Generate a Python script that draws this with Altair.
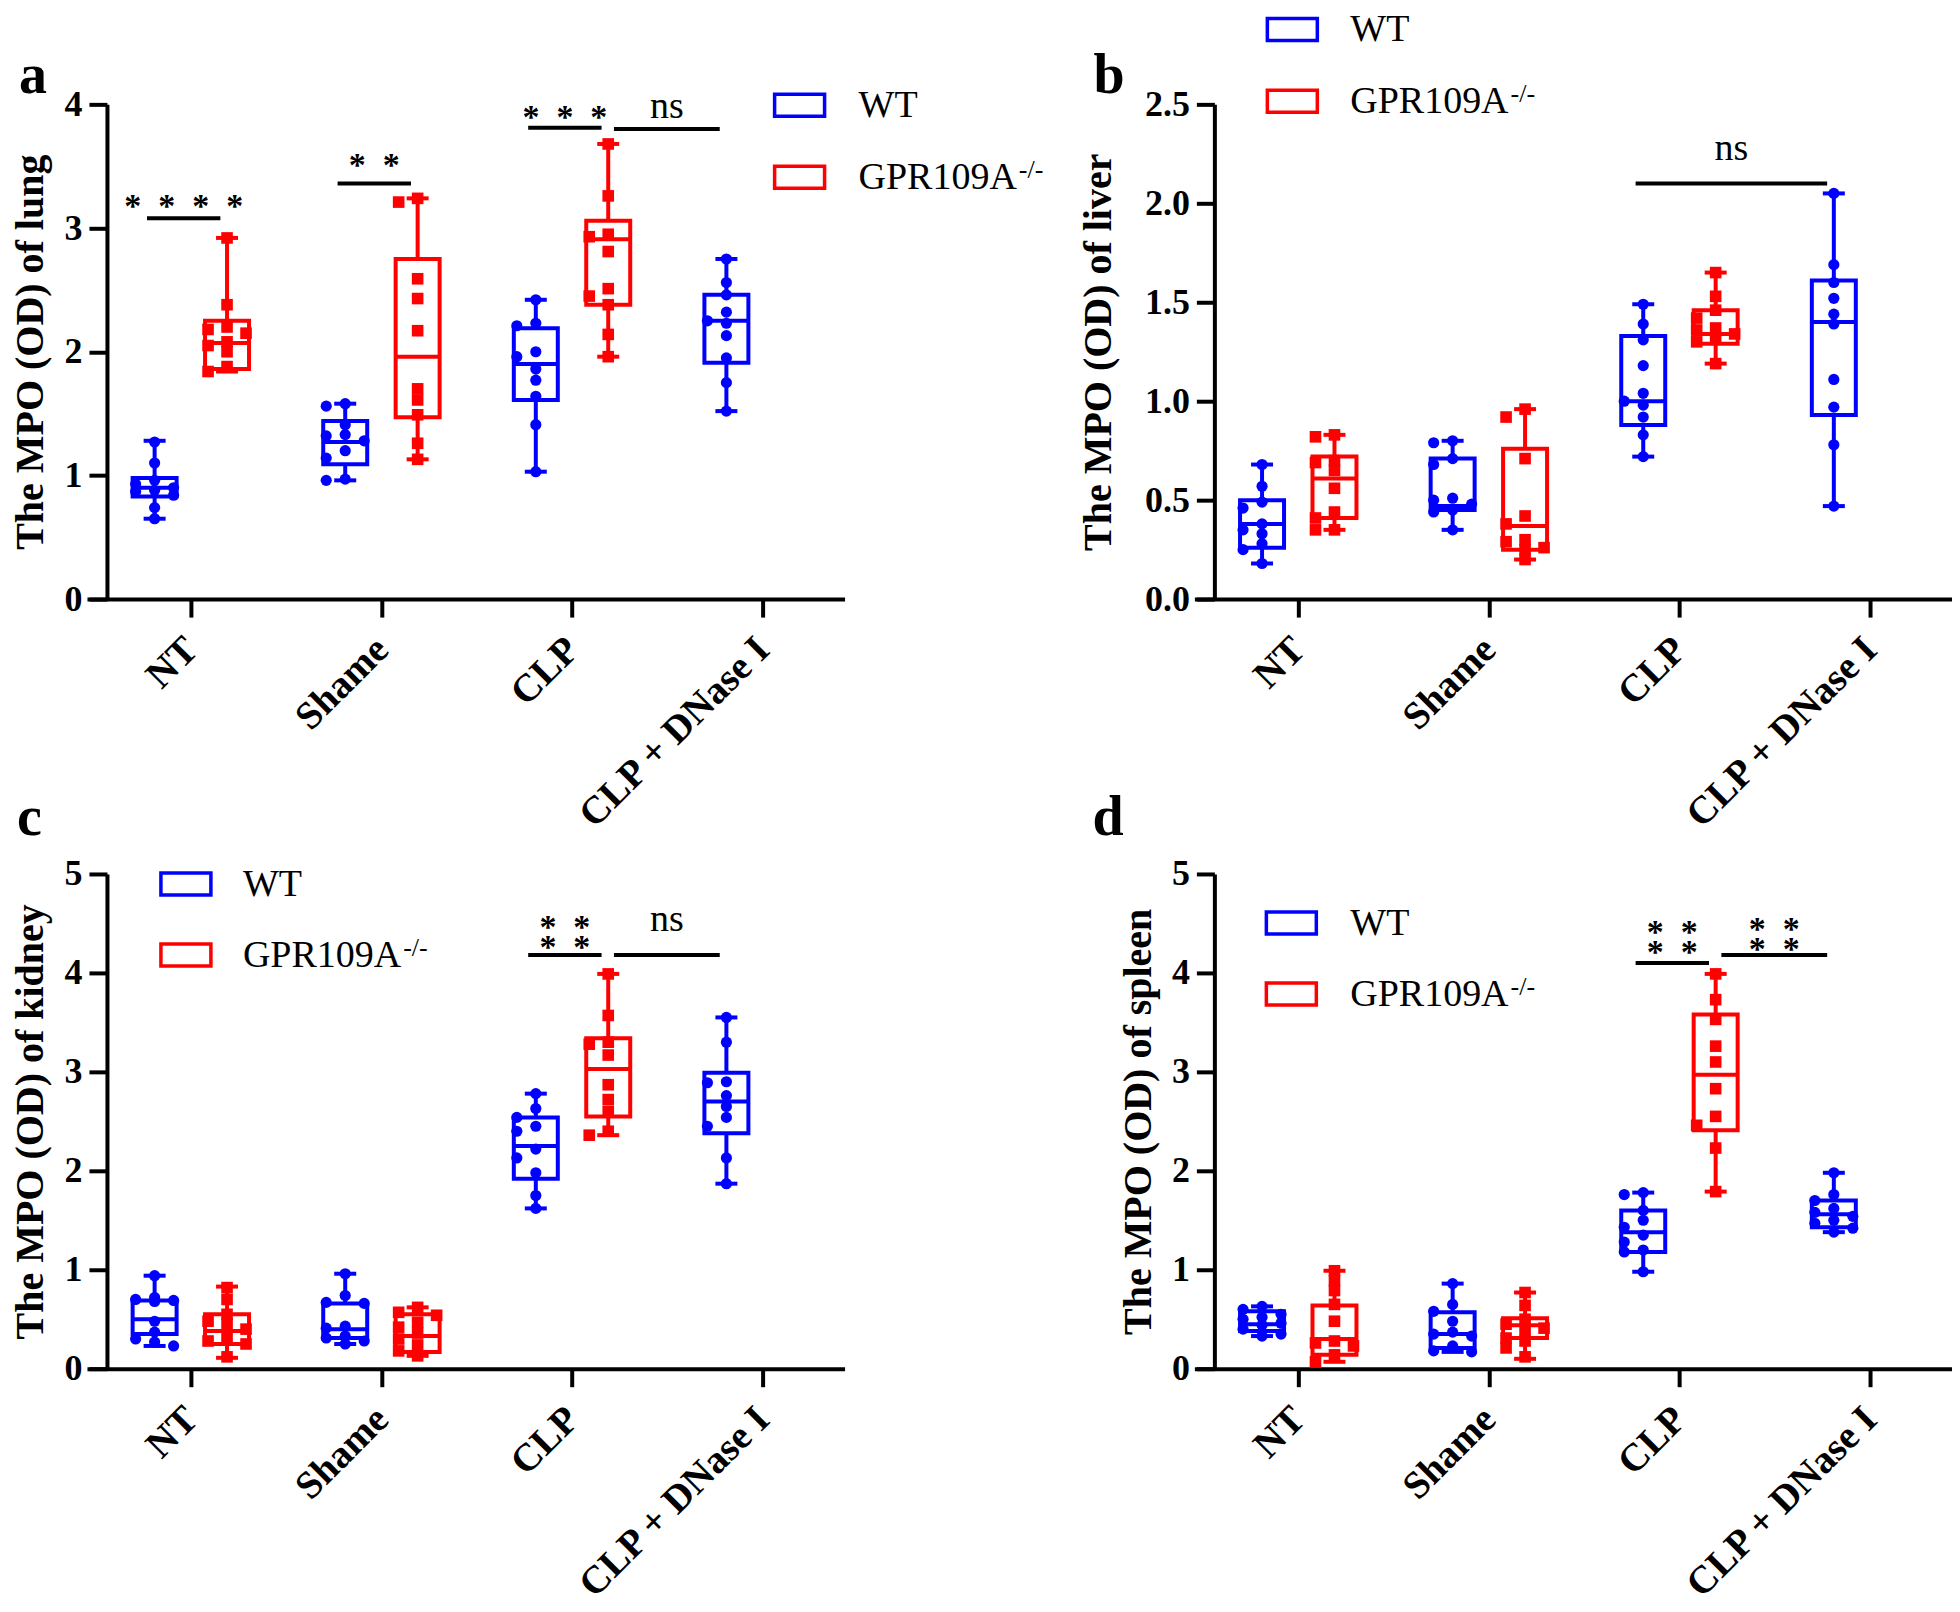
import json
import altair as alt
import pandas as pd

# ---------------- data ----------------
CATEGORIES = ["NT", "Shame", "CLP", "CLP + DNase I"]
GENOTYPES = ["WT", "GPR109A"]
GROUP_CAT = [0, 0, 1, 1, 2, 2, 3]
GROUP_GENO = ["WT", "GPR109A", "WT", "GPR109A", "WT", "GPR109A", "WT"]

# (a) lung
lung_nt_wt = [1.27, 1.10, 0.96, 0.93, 0.90, 0.88, 0.87, 0.84, 0.74, 0.65]
lung_nt_ko = [2.92, 2.38, 2.20, 2.18, 2.15, 2.08, 2.05, 2.00, 1.88, 1.84]
lung_sh_wt = [1.58, 1.56, 1.41, 1.33, 1.32, 1.28, 1.20, 1.14, 0.97, 0.96]
lung_sh_ko = [3.24, 3.21, 2.59, 2.43, 2.17, 1.70, 1.61, 1.49, 1.26, 1.13]
lung_clp_wt = [2.42, 2.23, 2.21, 2.00, 1.96, 1.86, 1.77, 1.64, 1.41, 1.03]
lung_clp_ko = [3.68, 3.26, 2.95, 2.93, 2.81, 2.51, 2.45, 2.38, 2.14, 1.96]
lung_dn_wt = [2.75, 2.56, 2.46, 2.32, 2.25, 2.23, 2.13, 1.95, 1.75, 1.52]
lung_box_min = [0.65, 1.84, 0.96, 1.13, 1.03, 1.96, 1.52]
lung_box_q1 = [0.83, 1.86, 1.09, 1.47, 1.61, 2.38, 1.91]
lung_box_med = [0.90, 2.07, 1.27, 1.96, 1.90, 2.91, 2.25]
lung_box_q3 = [0.98, 2.25, 1.44, 2.75, 2.19, 3.06, 2.46]
lung_box_max = [1.28, 2.92, 1.58, 3.24, 2.42, 3.68, 2.75]
lung_cmp_from = [0, 2, 4, 5]
lung_cmp_to = [1, 3, 5, 6]
lung_cmp_line = [3.08, 3.36, 3.81, 3.80]
lung_cmp_text = [3.09, 3.42, 3.81, 3.89]
lung_cmp_label = ["****", "**", "***", "ns"]

# (b) liver
liver_nt_wt = [0.68, 0.57, 0.49, 0.46, 0.38, 0.35, 0.33, 0.28, 0.25, 0.18]
liver_nt_ko = [0.83, 0.82, 0.70, 0.69, 0.65, 0.56, 0.44, 0.41, 0.35, 0.35]
liver_sh_wt = [0.80, 0.79, 0.71, 0.68, 0.51, 0.50, 0.48, 0.45, 0.44, 0.35]
liver_sh_ko = [0.96, 0.92, 0.71, 0.42, 0.38, 0.30, 0.29, 0.26, 0.25, 0.20]
liver_clp_wt = [1.49, 1.39, 1.31, 1.18, 1.04, 1.00, 0.98, 0.92, 0.83, 0.72]
liver_clp_ko = [1.65, 1.53, 1.46, 1.42, 1.37, 1.36, 1.34, 1.32, 1.30, 1.19]
liver_dn_wt = [2.05, 1.69, 1.60, 1.52, 1.44, 1.39, 1.11, 0.97, 0.78, 0.47]
liver_box_min = [0.18, 0.35, 0.35, 0.20, 0.72, 1.19, 0.47]
liver_box_q1 = [0.26, 0.41, 0.45, 0.25, 0.88, 1.29, 0.93]
liver_box_med = [0.38, 0.61, 0.47, 0.37, 1.00, 1.34, 1.40]
liver_box_q3 = [0.50, 0.72, 0.71, 0.76, 1.33, 1.46, 1.61]
liver_box_max = [0.68, 0.83, 0.80, 0.96, 1.49, 1.65, 2.05]
liver_cmp_from = [4]
liver_cmp_to = [6]
liver_cmp_line = [2.10]
liver_cmp_text = [2.22]
liver_cmp_label = ["ns"]

# (c) kidney
kidney_nt_wt = [0.94, 0.72, 0.70, 0.69, 0.68, 0.48, 0.37, 0.30, 0.27, 0.23]
kidney_nt_ko = [0.82, 0.70, 0.55, 0.48, 0.45, 0.40, 0.31, 0.28, 0.25, 0.12]
kidney_sh_wt = [0.96, 0.74, 0.67, 0.66, 0.43, 0.41, 0.33, 0.31, 0.28, 0.25]
kidney_sh_ko = [0.62, 0.57, 0.54, 0.47, 0.42, 0.36, 0.30, 0.24, 0.18, 0.13]
kidney_clp_wt = [2.78, 2.63, 2.54, 2.45, 2.40, 2.22, 2.13, 1.98, 1.75, 1.62]
kidney_clp_ko = [3.99, 3.57, 3.30, 3.28, 3.17, 2.87, 2.72, 2.60, 2.40, 2.36]
kidney_dn_wt = [3.55, 3.30, 2.90, 2.89, 2.76, 2.65, 2.54, 2.45, 2.13, 1.87]
kidney_box_min = [0.23, 0.11, 0.25, 0.13, 1.62, 2.36, 1.87]
kidney_box_q1 = [0.35, 0.25, 0.31, 0.17, 1.92, 2.55, 2.38]
kidney_box_med = [0.50, 0.38, 0.40, 0.33, 2.25, 3.03, 2.70]
kidney_box_q3 = [0.69, 0.55, 0.66, 0.55, 2.54, 3.34, 2.99]
kidney_box_max = [0.94, 0.83, 0.96, 0.62, 2.78, 3.99, 3.55]
kidney_cmp_from = [4, 5]
kidney_cmp_to = [5, 6]
kidney_cmp_line = [4.18, 4.18]
kidney_cmp_text = [4.35, 4.42]
kidney_cmp_label = ["**\n**", "ns"]

# (d) spleen
spleen_nt_wt = [0.63, 0.60, 0.55, 0.52, 0.50, 0.46, 0.44, 0.40, 0.35, 0.33]
spleen_nt_ko = [0.99, 0.89, 0.79, 0.65, 0.48, 0.28, 0.26, 0.23, 0.14, 0.07]
spleen_sh_wt = [0.86, 0.65, 0.58, 0.48, 0.37, 0.35, 0.33, 0.23, 0.18, 0.17]
spleen_sh_ko = [0.77, 0.64, 0.50, 0.45, 0.41, 0.38, 0.31, 0.28, 0.21, 0.12]
spleen_clp_wt = [1.78, 1.76, 1.60, 1.50, 1.43, 1.35, 1.28, 1.20, 1.18, 0.98]
spleen_clp_ko = [3.99, 3.73, 3.53, 3.26, 3.10, 2.83, 2.55, 2.46, 2.23, 1.79]
spleen_dn_wt = [1.98, 1.76, 1.70, 1.62, 1.58, 1.54, 1.50, 1.47, 1.42, 1.38]
spleen_box_min = [0.33, 0.07, 0.17, 0.10, 0.98, 1.79, 1.38]
spleen_box_q1 = [0.38, 0.14, 0.21, 0.31, 1.18, 2.41, 1.43]
spleen_box_med = [0.45, 0.30, 0.35, 0.44, 1.38, 2.97, 1.56]
spleen_box_q3 = [0.58, 0.64, 0.57, 0.51, 1.60, 3.58, 1.70]
spleen_box_max = [0.63, 0.99, 0.86, 0.77, 1.78, 3.99, 1.98]
spleen_cmp_from = [4, 5]
spleen_cmp_to = [5, 6]
spleen_cmp_line = [4.10, 4.18]
spleen_cmp_text = [4.30, 4.33]
spleen_cmp_label = ["**\n**", "**\n**"]

# ---------------- styling / layout ----------------
BLUE = "#0000ff"
RED = "#ff0000"
SERIF = "Liberation Serif"
PLOT_W = 758
PLOT_H = 495
X_DOMAIN = [-0.545, 3.43]
PX_X = PLOT_W / (X_DOMAIN[1] - X_DOMAIN[0])
GROUP_SHIFT = 0.19
BOX_HALF = 22 / PX_X
CAP_HALF = 11 / PX_X
COL_STEP = 19 / PX_X
LINE_W = 4

color_scale = alt.Scale(domain=GENOTYPES, range=[BLUE, RED])
label_expr = json.dumps(CATEGORIES) + "[datum.value]"


def spread_columns(values, px_per_y, clear=9.0):
    order = sorted(range(len(values)), key=lambda k: -values[k])
    placed = []
    cols = [0] * len(values)
    for k in order:
        ypx = values[k] * px_per_y
        best, best_gap = 0, -1.0
        for c in [0, -1, 1]:
            gaps = [abs(ypx - py) for (pc, py) in placed if pc == c]
            gap = min(gaps) if gaps else 1e9
            if gap >= clear:
                best = c
                break
            if gap > best_gap:
                best, best_gap = c, gap
        cols[k] = best
        placed.append((best, ypx))
    return cols


def center(i):
    return GROUP_CAT[i] + (-GROUP_SHIFT if GROUP_GENO[i] == "WT" else GROUP_SHIFT)


def make_panel(p):
    ymax = p["ymax"]
    px_per_y = PLOT_H / ymax
    xs = alt.Scale(domain=X_DOMAIN, nice=False, zero=False)
    ys = alt.Scale(domain=[0, ymax], nice=False, zero=True)
    x_axis = alt.Axis(values=[0, 1, 2, 3], labelExpr=label_expr, title=None,
                      labelAngle=-45, labelAlign="right", labelBaseline="middle",
                      labelFontSize=39, labelPadding=26, labelFlush=False,
                      labelOverlap=False, labelLimit=600)
    y_axis = alt.Axis(values=p["yticks"], format=p["fmt"], title=p["ytitle"],
                      offset=-20, labelFontSize=36, labelPadding=7,
                      titleFontSize=40, titlePadding=p["title_pad"], labelFlush=False,
                      labelOverlap=False)

    def X(field):
        return alt.X(field, scale=xs, axis=x_axis)

    def Y(field):
        return alt.Y(field, scale=ys, axis=y_axis)

    rows = []
    for i in range(7):
        c = center(i)
        rows.append(dict(geno=GROUP_GENO[i], cx=c, bx1=c - BOX_HALF, bx2=c + BOX_HALF,
                         k1=c - CAP_HALF, k2=c + CAP_HALF,
                         lo=p["min"][i], q1=p["q1"][i], med=p["med"][i],
                         q3=p["q3"][i], hi=p["max"][i]))
    box_df = pd.DataFrame(rows)
    cap_rows = []
    for r in rows:
        for v in (r["lo"], r["hi"]):
            cap_rows.append(dict(geno=r["geno"], k1=r["k1"], k2=r["k2"], v=v))
    cap_df = pd.DataFrame(cap_rows)

    pt_rows = []
    for i, vals in enumerate(p["points"]):
        cols = spread_columns(vals, px_per_y)
        for v, cidx in zip(vals, cols):
            pt_rows.append(dict(geno=GROUP_GENO[i], x=center(i) + cidx * COL_STEP, y=v))
    pt_df = pd.DataFrame(pt_rows)

    cmp_rows = []
    ends = set(p["cmp_to"])
    for f, t, ly, ty, lab in zip(p["cmp_from"], p["cmp_to"], p["cmp_line"], p["cmp_text"], p["cmp_label"]):
        x1 = center(f) + (0.03 if f in ends else -0.04)
        x2 = center(t) - 0.035
        is_ns = lab == "ns"
        txt = lab if is_ns else "\n".join("\u2002".join(list(row)) for row in lab.split("\n"))
        cmp_rows.append(dict(x1=x1, x2=x2, xm=(x1 + x2) / 2, ly=ly, ty=ty, label=txt, ns=is_ns))
    cmp_df = pd.DataFrame(cmp_rows)

    stroke = alt.Stroke("geno:N", scale=color_scale, legend=None)

    whisk = alt.Chart(box_df).mark_rule(strokeWidth=LINE_W).encode(
        x=X("cx:Q"), y=Y("lo:Q"), y2="hi:Q", stroke=stroke)
    caps = alt.Chart(cap_df).mark_rule(strokeWidth=LINE_W).encode(
        x=X("k1:Q"), x2="k2:Q", y=Y("v:Q"), stroke=stroke)
    boxes = alt.Chart(box_df).mark_rect(fill="white", strokeWidth=LINE_W).encode(
        x=X("bx1:Q"), x2="bx2:Q", y=Y("q1:Q"), y2="q3:Q", stroke=stroke)
    meds = alt.Chart(box_df).mark_rule(strokeWidth=LINE_W).encode(
        x=X("bx1:Q"), x2="bx2:Q", y=Y("med:Q"), stroke=stroke)
    pts_wt = alt.Chart(pt_df[pt_df.geno == "WT"]).mark_point(
        filled=True, shape="circle", size=125, opacity=1, color=BLUE).encode(
        x=X("x:Q"), y=Y("y:Q"))
    pts_ko = alt.Chart(pt_df[pt_df.geno == "GPR109A"]).mark_point(
        filled=True, shape="square", size=135, opacity=1, color=RED).encode(
        x=X("x:Q"), y=Y("y:Q"))
    lines = alt.Chart(cmp_df).mark_rule(strokeWidth=LINE_W, color="black").encode(
        x=X("x1:Q"), x2="x2:Q", y=Y("ly:Q"))
    layers = [whisk, caps, boxes, meds, pts_wt, pts_ko, lines]
    star_df = cmp_df[~cmp_df.ns]
    ns_df = cmp_df[cmp_df.ns]
    if len(star_df):
        layers.append(alt.Chart(star_df).mark_text(
            font=SERIF, fontWeight="bold", fontSize=34, align="center",
            baseline="alphabetic", lineBreak="\n", lineHeight=20, color="black").encode(
            x=X("xm:Q"), y=Y("ty:Q"), text="label:N"))
    if len(ns_df):
        layers.append(alt.Chart(ns_df).mark_text(
            font=SERIF, fontSize=38, align="center", baseline="alphabetic",
            color="black").encode(x=X("xm:Q"), y=Y("ty:Q"), text="label:N"))

    # legend (drawn as decoration)
    one = pd.DataFrame({"k": [0]})
    lx, lrows, tx = p["legend"]
    for geno, cy, col in zip(GENOTYPES, lrows, [BLUE, RED]):
        layers.append(alt.Chart(one).mark_rect(fill="white", stroke=col, strokeWidth=3.5).encode(
            x=alt.value(lx), x2=alt.value(lx + 50), y=alt.value(cy - 11), y2=alt.value(cy + 11)))
        label = "WT" if geno == "WT" else "GPR109A"
        layers.append(alt.Chart(pd.DataFrame({"t": [label]})).mark_text(
            font=SERIF, fontSize=38, align="left", baseline="alphabetic", color="black").encode(
            x=alt.value(tx), y=alt.value(cy + 12), text="t:N"))
        if geno != "WT":
            layers.append(alt.Chart(pd.DataFrame({"t": ["-/-"]})).mark_text(
                font=SERIF, fontSize=26, align="left", baseline="alphabetic", color="black").encode(
                x=alt.value(tx + 4.167 * 38 + 2), y=alt.value(cy + 1), text="t:N"))
    # panel letter
    layers.append(alt.Chart(pd.DataFrame({"t": [p["letter"]]})).mark_text(
        font=SERIF, fontWeight="bold", fontSize=56, align="left", baseline="alphabetic",
        color="black").encode(x=alt.value(p["letter_pos"][0]), y=alt.value(p["letter_pos"][1]),
                              text="t:N"))
    return alt.layer(*layers).properties(width=PLOT_W, height=PLOT_H)


panels = [
    dict(letter="a", letter_pos=(-68, -11), ymax=4, yticks=[0, 1, 2, 3, 4], fmt="d",
         ytitle="The MPO (OD) of lung", title_pad=13,
         points=[lung_nt_wt, lung_nt_ko, lung_sh_wt, lung_sh_ko, lung_clp_wt, lung_clp_ko, lung_dn_wt],
         min=lung_box_min, q1=lung_box_q1, med=lung_box_med, q3=lung_box_q3, max=lung_box_max,
         cmp_from=lung_cmp_from, cmp_to=lung_cmp_to, cmp_line=lung_cmp_line,
         cmp_text=lung_cmp_text, cmp_label=lung_cmp_label,
         legend=(688, [1, 73], 772)),
    dict(letter="b", letter_pos=(-101, -11), ymax=2.5, yticks=[0, 0.5, 1, 1.5, 2, 2.5], fmt=".1f",
         ytitle="The MPO (OD) of liver", title_pad=26,
         points=[liver_nt_wt, liver_nt_ko, liver_sh_wt, liver_sh_ko, liver_clp_wt, liver_clp_ko, liver_dn_wt],
         min=liver_box_min, q1=liver_box_q1, med=liver_box_med, q3=liver_box_q3, max=liver_box_max,
         cmp_from=liver_cmp_from, cmp_to=liver_cmp_to, cmp_line=liver_cmp_line,
         cmp_text=liver_cmp_text, cmp_label=liver_cmp_label,
         legend=(73, [-75, -3], 156)),
    dict(letter="c", letter_pos=(-70, -39), ymax=5, yticks=[0, 1, 2, 3, 4, 5], fmt="d",
         ytitle="The MPO (OD) of kidney", title_pad=13,
         points=[kidney_nt_wt, kidney_nt_ko, kidney_sh_wt, kidney_sh_ko, kidney_clp_wt, kidney_clp_ko, kidney_dn_wt],
         min=kidney_box_min, q1=kidney_box_q1, med=kidney_box_med, q3=kidney_box_q3, max=kidney_box_max,
         cmp_from=kidney_cmp_from, cmp_to=kidney_cmp_to, cmp_line=kidney_cmp_line,
         cmp_text=kidney_cmp_text, cmp_label=kidney_cmp_label,
         legend=(74, [10, 81], 156)),
    dict(letter="d", letter_pos=(-102, -39), ymax=5, yticks=[0, 1, 2, 3, 4, 5], fmt="d",
         ytitle="The MPO (OD) of spleen", title_pad=13,
         points=[spleen_nt_wt, spleen_nt_ko, spleen_sh_wt, spleen_sh_ko, spleen_clp_wt, spleen_clp_ko, spleen_dn_wt],
         min=spleen_box_min, q1=spleen_box_q1, med=spleen_box_med, q3=spleen_box_q3, max=spleen_box_max,
         cmp_from=spleen_cmp_from, cmp_to=spleen_cmp_to, cmp_line=spleen_cmp_line,
         cmp_text=spleen_cmp_text, cmp_label=spleen_cmp_label,
         legend=(72, [49, 120], 156)),
]

charts = [make_panel(p) for p in panels]

chart = alt.concat(*charts, columns=2, spacing={"row": 275, "column": 350},
                   bounds="flush").properties(
    padding={"left": 3, "top": 3, "right": 0, "bottom": 0}).configure_view(
    stroke=None).configure_axis(
    domainColor="black", domainWidth=LINE_W, tickColor="black", tickWidth=LINE_W,
    tickSize=18, labelColor="black", titleColor="black", labelFont=SERIF,
    titleFont=SERIF, labelFontWeight="bold", titleFontWeight="bold", grid=False)

chart.save("out.html", embed_options={"renderer": "svg", "actions": False})
